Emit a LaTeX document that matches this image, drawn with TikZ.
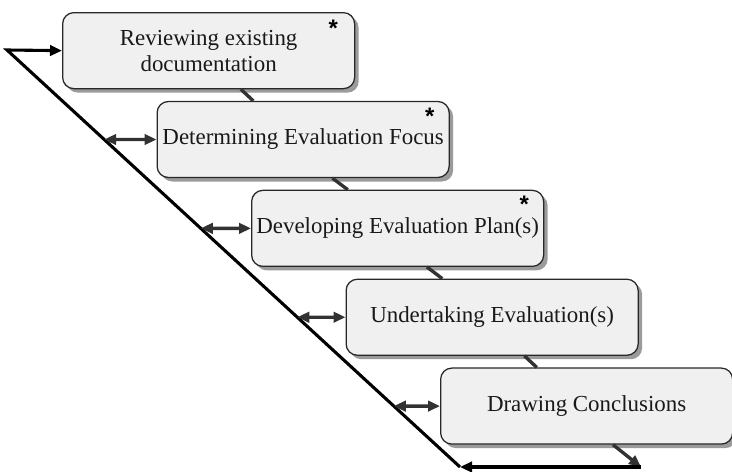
\documentclass[tikz,border=0pt]{standalone}
\usepackage{fontspec}
\setmainfont{Liberation Serif}
\newfontfamily\starfont{Liberation Sans}
\usepackage{tikz}
\usetikzlibrary{
    arrows.meta,
    positioning,
    calc,
    shadows
}
\tikzset{
  stage/.style   = {draw=boxEdge, line width=0.9pt, rounded corners=0.28cm,
                    fill=boxFill, minimum width=7.3cm, minimum height=1.9cm,
                    align=center, inner sep=2pt, text=black!90,
                    font=\fontsize{16.3}{18.5}\selectfont,
                    drop shadow={shadow xshift=0.1cm, shadow yshift=-0.1cm,
                                 fill=shadowGray, opacity=1}},
  starmark/.style = {inner sep=0pt, anchor=base,
                    font=\starfont\bfseries\fontsize{17}{17}\selectfont},
  link/.style    = {linkGray, line width=2.4pt},
  dbl/.style     = {<->, linkGray, line width=2.4pt},
  loopline/.style = {->, black, line width=2.2pt}
}
\definecolor{boxFill}{RGB}{240,240,240}
\definecolor{boxEdge}{RGB}{40,40,40}
\definecolor{linkGray}{RGB}{50,50,50}
\definecolor{shadowGray}{RGB}{155,155,155}

\begin{document}
\begin{tikzpicture}[>={Triangle[length=0.3cm,width=0.26cm]}]
  \useasboundingbox (0,0) rectangle (18.3,-11.775);

  \node[stage, anchor=north west] (b1) at (1.55,-0.3) {Reviewing existing\\documentation};
  \node[stage, below=0.29cm of b1.south west, anchor=north west, xshift=2.3625cm] (b2) {Determining Evaluation Focus};
  \node[stage, below=0.29cm of b2.south west, anchor=north west, xshift=2.3625cm] (b3) {Developing Evaluation Plan(s)};
  \node[stage, below=0.29cm of b3.south west, anchor=north west, xshift=2.3625cm] (b4) {Undertaking Evaluation(s)};
  \node[stage, below=0.29cm of b4.south west, anchor=north west, xshift=2.3625cm] (b5) {Drawing Conclusions};

  \node[starmark] (s1) at ($(b1.north east)+(-0.55,-0.6)$) {*};
  \node[starmark] (s2) at ($(b2.north east)+(-0.5,-0.58)$) {*};
  \node[starmark] (s3) at ($(b3.north east)+(-0.5,-0.58)$) {*};

  \coordinate (tl) at (0.175,-1.25);
  \coordinate (bl) at (11.5,-11.675);
  \coordinate (br) at (16.025,-11.675);
  \coordinate (c5) at ($(b5.south west)!0.59!(b5.south east)$);

  % links between the stages
  \draw[link] ($(b1.south west)!0.61!(b1.south east)$) -- ($(b2.north west)!0.33!(b2.north east)$);
  \draw[link] ($(b2.south west)!0.60!(b2.south east)$) -- ($(b3.north west)!0.33!(b3.north east)$);
  \draw[link] ($(b3.south west)!0.60!(b3.south east)$) -- ($(b4.north west)!0.33!(b4.north east)$);
  \draw[link] ($(b4.south west)!0.61!(b4.south east)$) -- ($(b5.north west)!0.33!(b5.north east)$);
  \draw[link, ->] (c5) -- (br);

  % feedback loop
  \draw[loopline] (br) -- (bl);
  \draw[loopline] (bl) -- (tl) -- (b1.west);

  \draw[dbl] (intersection of tl--bl and b2.west--b2.east) -- (b2.west);
  \draw[dbl] (intersection of tl--bl and b3.west--b3.east) -- (b3.west);
  \draw[dbl] (intersection of tl--bl and b4.west--b4.east) -- (b4.west);
  \draw[dbl] (intersection of tl--bl and b5.west--b5.east) -- (b5.west);
\end{tikzpicture}
\end{document}
